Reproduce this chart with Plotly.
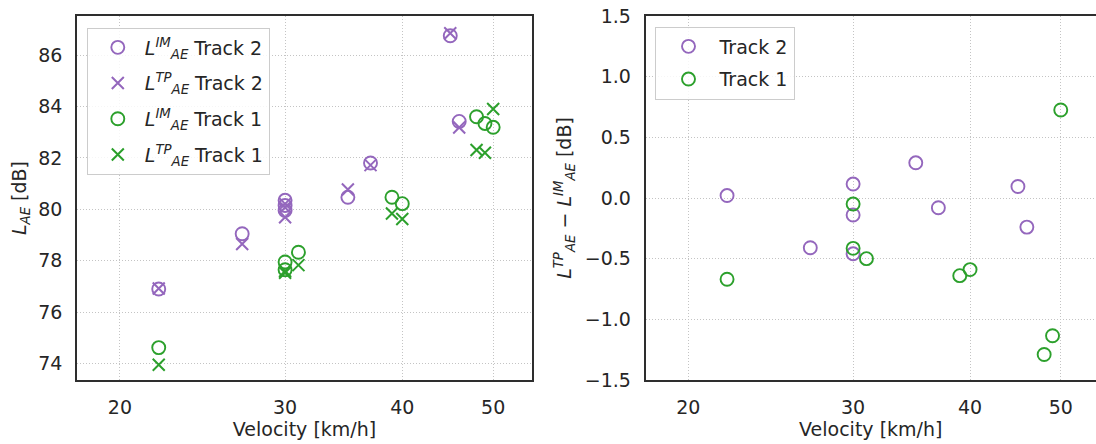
import math
import plotly.graph_objects as go

# ---------------- data ----------------
vel_t2 = [22, 27, 30, 30, 30, 35, 37, 45, 46]
im_t2 = [76.9, 79.05, 80.35, 80.15, 79.95, 80.47, 81.8, 86.75, 83.42]
tp_t2 = [76.92, 78.65, 80.21, 79.69, 80.07, 80.77, 81.72, 86.85, 83.18]

vel_t1 = [22, 30, 30, 31, 39, 40, 48, 49, 50]
im_t1 = [74.62, 77.95, 77.65, 78.33, 80.47, 80.22, 83.6, 83.34, 83.19]
tp_t1 = [73.95, 77.53, 77.6, 77.83, 79.84, 79.62, 82.31, 82.2, 83.9]

diff_t2 = [0.02, -0.41, 0.115, -0.14, -0.46, 0.29, -0.08, 0.095, -0.24]
diff_t1 = [-0.67, -0.05, -0.415, -0.50, -0.64, -0.59, -1.29, -1.135, 0.725]

x_ticks = [20, 30, 40, 50]
x_ticktext = ["20", "30", "40", "50"]

# ---------------- style ----------------
PURPLE = "#9467bd"
GREEN = "#2ca02c"
FONT = "DejaVu Sans"
TXT = "#262626"
FS = 19
GRID = "#c4c4c4"
BORDER = "#2e2e2e"

W, H = 1096, 444
L, R, T, B = 77, 0, 16, 64
pw = W - L - R

def px(a):
    return (a - L) / pw

L_IM = "<i>L</i><sup><i>IM</i></sup><sub><i>AE</i></sub>"
L_TP = "<i>L</i><sup><i>TP</i></sup><sub><i>AE</i></sub>"

fig = go.Figure()

circ = dict(symbol="circle-open", size=13, line=dict(width=1.9))
cross = dict(symbol="x-thin-open", size=12, line=dict(width=2))

fig.add_trace(go.Scatter(x=vel_t2, y=im_t2, mode="markers", name=L_IM + " Track 2", legendgroup="a",
                         marker=dict(color=PURPLE, **circ), xaxis="x", yaxis="y", legend="legend"))
fig.add_trace(go.Scatter(x=vel_t2, y=tp_t2, mode="markers", name=L_TP + " Track 2", legendgroup="b",
                         marker=dict(color=PURPLE, **cross), xaxis="x", yaxis="y", legend="legend"))
fig.add_trace(go.Scatter(x=vel_t1, y=im_t1, mode="markers", name=L_IM + " Track 1", legendgroup="c",
                         marker=dict(color=GREEN, **circ), xaxis="x", yaxis="y", legend="legend"))
fig.add_trace(go.Scatter(x=vel_t1, y=tp_t1, mode="markers", name=L_TP + " Track 1", legendgroup="d",
                         marker=dict(color=GREEN, **cross), xaxis="x", yaxis="y", legend="legend"))

fig.add_trace(go.Scatter(x=vel_t2, y=diff_t2, mode="markers", name="Track 2", legendgroup="e",
                         marker=dict(color=PURPLE, **circ), xaxis="x2", yaxis="y2", legend="legend2"))
fig.add_trace(go.Scatter(x=vel_t1, y=diff_t1, mode="markers", name="Track 1", legendgroup="f",
                         marker=dict(color=GREEN, **circ), xaxis="x2", yaxis="y2", legend="legend2"))

axis_common = dict(
    showgrid=True, gridcolor=GRID, gridwidth=1, griddash="1px,2px",
    zeroline=False, showline=True, linecolor=BORDER, linewidth=1.6,
    ticks="", tickfont=dict(family=FONT, size=FS, color=TXT),
)

xr_left = [math.log10(18), math.log10(55)]
xr_right = [math.log10(18), math.log10(54.53)]

fig.update_layout(
    width=W, height=H,
    margin=dict(l=L, r=R, t=T, b=B, autoexpand=False),
    paper_bgcolor="white", plot_bgcolor="white",
    font=dict(family=FONT, size=FS, color=TXT),
    xaxis=dict(domain=[0, px(532)], type="log", range=xr_left, tickvals=x_ticks, ticktext=x_ticktext,
               mirror=True, anchor="y", ticklabelstandoff=9,
               title=dict(text="Velocity [km/h]", standoff=4, font=dict(family=FONT, size=FS, color=TXT)),
               automargin=False, **axis_common),
    yaxis=dict(domain=[0, 1], range=[73.36, 87.52], tick0=74, dtick=2, mirror=True, anchor="x",
               ticklabelstandoff=9,
               title=dict(text="<i>L</i><sub><i>AE</i></sub> [dB]", standoff=7,
                          font=dict(family=FONT, size=FS, color=TXT)),
               automargin=False, **axis_common),
    xaxis2=dict(domain=[px(645.5), 1], type="log", range=xr_right, tickvals=x_ticks, ticktext=x_ticktext,
                mirror=True, anchor="y2", ticklabelstandoff=9,
                title=dict(text="Velocity [km/h]", standoff=4, font=dict(family=FONT, size=FS, color=TXT)),
                automargin=False, **axis_common),
    yaxis2=dict(domain=[0, 1], range=[-1.5, 1.5], tick0=0, dtick=0.5, tickformat=".1f", mirror=False,
                anchor="x2", ticklabelstandoff=9,
                title=dict(text=L_TP + " − " + L_IM + " [dB]", standoff=8,
                           font=dict(family=FONT, size=FS, color=TXT)),
                automargin=False, **axis_common),
    legend=dict(x=px(86.8), y=(380 - 27.5) / 364, xanchor="left", yanchor="top",
                bgcolor="rgba(255,255,255,0.85)", bordercolor="#cccccc", borderwidth=1,
                font=dict(family=FONT, size=FS, color=TXT), itemwidth=44, indentation=3,
                tracegroupgap=8),
    legend2=dict(x=px(654.5), y=(380 - 26.5) / 364, xanchor="left", yanchor="top",
                 bgcolor="rgba(255,255,255,0.85)", bordercolor="#cccccc", borderwidth=1,
                 font=dict(family=FONT, size=FS, color=TXT), itemwidth=52, indentation=2,
                 tracegroupgap=5),
    showlegend=True,
)

fig.write_html("out.html")
